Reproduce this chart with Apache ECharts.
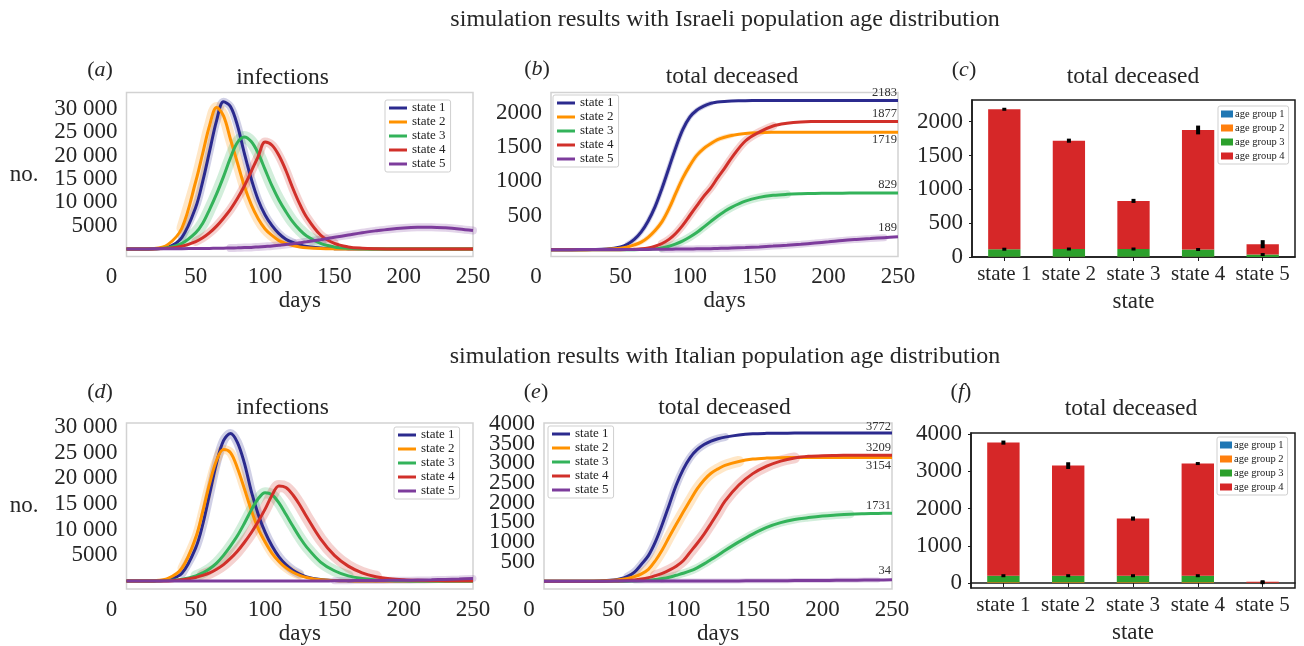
<!DOCTYPE html>
<html><head><meta charset="utf-8">
<script src="https://cdn.jsdelivr.net/npm/echarts@6/dist/echarts.min.js"></script>
<style>html,body{margin:0;padding:0;background:#fff}#c{width:1304px;height:646px}</style>
</head><body><div id="c"></div>
<script>
// ---------- DATA ----------
const days = [0,10,20,30,40,50,55,60,65,70,75,80,85,90,95,100,105,110,115,120,125,130,140,150,160,170,180,190,200,210,220,230,240,250];
const stateNames = ['state 1','state 2','state 3','state 4','state 5'];
const ageGroups = ['age group 1','age group 2','age group 3','age group 4'];

// (a) infections, Israeli
const isrInf1 = [0,0,50,400,2500,9000,14500,21000,27500,31500,30500,26500,20500,15000,10500,7300,5000,3300,2100,1400,900,550,220,80,30,10,0,0,0,0,0,0,0,0];
const isrInf2 = [0,0,100,1000,4500,14500,20500,26500,30300,28500,23500,18500,13500,9500,6500,4300,2900,1800,1200,750,450,280,100,30,10,0,0,0,0,0,0,0,0,0];
const isrInf3 = [0,0,50,300,1200,3500,5500,8500,11800,15500,19500,22800,24000,23000,20500,17000,13500,10500,8000,5800,4100,2800,1200,450,150,50,0,0,0,0,0,0,0,0];
const isrInf4 = [0,0,30,150,600,1600,2400,3500,4900,6600,8500,10800,13500,16600,19800,22900,22200,20000,16800,13000,9600,6800,3000,1200,450,170,60,20,0,0,0,0,0,0];
const isrInf5 = [0,20,40,60,80,100,110,130,150,180,210,250,300,350,450,550,650,800,950,1150,1350,1550,2000,2500,3000,3500,3900,4250,4500,4650,4680,4550,4300,3950];

// (b) total deceased, Israeli
const isrDec1 = [0,0,0,2,10,40,80,150,260,420,630,900,1200,1500,1760,1940,2040,2100,2140,2160,2170,2175,2180,2182,2183,2183,2183,2183,2183,2183,2183,2183,2183,2183];
const isrDec2 = [0,0,0,1,5,20,40,70,110,180,280,410,600,830,1050,1230,1380,1480,1550,1610,1645,1670,1700,1712,1717,1719,1719,1719,1719,1719,1719,1719,1719,1719];
const isrDec3 = [0,0,0,0,0,0,0,0,2,5,12,25,50,85,130,185,250,330,410,490,560,620,710,765,795,810,818,823,826,827,828,829,829,829];
const isrDec4 = [0,0,0,0,0,0,2,6,12,25,50,90,150,240,360,500,640,780,900,1050,1190,1340,1590,1720,1810,1850,1870,1875,1877,1877,1877,1877,1877,1877];
const isrDec5 = [0,0,1,1,2,2,3,3,4,4,5,6,7,8,9,10,12,13,15,18,20,23,30,40,52,65,80,97,115,135,150,163,176,189];

// (d) infections, Italian
const itaInf1 = [0,0,30,250,1500,6500,11000,17000,23000,27300,28700,27000,23000,17500,13000,9500,6800,4700,3200,2100,1350,800,300,100,30,10,0,0,0,0,0,0,0,0];
const itaInf2 = [0,0,60,500,2500,8500,13500,19000,23500,25600,25000,22000,18000,13800,10200,7600,5400,3800,2600,1700,1100,700,250,100,40,10,0,0,0,0,0,0,0,0];
const itaInf3 = [0,0,0,80,350,1000,1600,2400,3500,5000,6800,8800,11200,13800,16000,17200,16800,15200,13000,10700,8500,6600,3700,2000,1000,500,220,100,40,10,0,0,0,0];
const itaInf4 = [0,0,0,30,250,700,1100,1600,2300,3200,4400,5800,7500,9400,11600,14000,16700,18500,18200,16800,14800,12500,8200,5000,2900,1600,850,450,250,150,100,70,60,50];
const itaInf5 = [0,0,0,0,0,0,0,0,0,0,0,0,0,0,0,0,0,0,0,0,0,0,0,50,70,90,110,130,150,200,250,320,400,500];

// (e) total deceased, Italian
const itaDec1 = [0,0,0,0,5,30,60,120,230,430,650,1000,1450,1950,2450,2850,3150,3350,3480,3570,3630,3670,3725,3755,3766,3770,3772,3772,3772,3772,3772,3772,3772,3772];
const itaDec2 = [0,0,0,0,3,20,40,70,115,185,300,520,800,1130,1450,1760,2060,2350,2580,2750,2860,2950,3050,3110,3135,3145,3150,3152,3153,3154,3154,3154,3154,3154];
const itaDec3 = [0,0,0,0,0,0,0,0,3,8,20,40,65,100,150,200,260,340,440,550,660,780,1000,1200,1370,1490,1570,1620,1660,1685,1705,1717,1726,1731];
const itaDec4 = [0,0,0,0,0,2,8,15,30,55,90,140,200,280,380,520,740,960,1200,1470,1750,2040,2450,2740,2930,3060,3140,3180,3198,3204,3207,3208,3209,3209];
const itaDec5 = [0,0,0,0,0,1,1,1,2,2,2,2,3,3,3,3,4,4,4,5,5,6,7,8,10,12,14,16,18,21,24,27,30,34];

// (c) deceased by age group, Israeli
const isrAge1 = [0,0,0,0,0];
const isrAge2 = [3,3,3,3,1];
const isrAge3 = [112,115,115,108,35];
const isrAge4 = [2068,1601,711,1766,153];
const isrErrTop = [20,30,30,65,60];
const isrErrMid = [8,8,8,8,8];

// (f) deceased by age group, Italian
const itaAge1 = [0,0,0,0,0];
const itaAge2 = [20,20,20,20,6];
const itaAge3 = [175,175,175,175,2];
const itaAge4 = [3577,2959,1536,3014,26];
const itaErrTop = [55,90,55,40,10];
const itaErrMid = [10,10,10,10,5];

const isrTicks = [5000,10000,15000,20000,25000,30000];
const isrDecTicks = [500,1000,1500,2000];
const isrBarTicks = [0,500,1000,1500,2000];
const itaTicks = [5000,10000,15000,20000,25000,30000];
const itaDecTicksOdd = [500,1500,2500,3500];
const itaDecTicksEven = [1000,2000,3000,4000];
const itaBarTicks = [0,1000,2000,3000,4000];

// ---------- STYLE ----------
const FONT = "Liberation Serif";
const TXT = '#262626';
const lineColors = ['#2b2a8e','#ff9200','#33b35a','#d1302a','#7d3c9c'];
const barColors = ['#1f77b4','#ff7f0e','#2ca02c','#d62728'];

const grids = [
  {left:126.5, top:92.5, width:346.5, height:164},
  {left:551, top:92.5, width:347, height:164},
  {left:972, top:100, width:323, height:157},
  {left:126.5, top:423, width:346.5, height:166},
  {left:544, top:423, width:348, height:166},
  {left:971, top:433, width:324, height:155}
].map((g,i)=>Object.assign({show:true, containLabel:false, backgroundColor:'transparent',
   borderColor:(i===2||i===5)?'#1a1a1a':'#d2d2d2', borderWidth:1.5}, g));

function fmtNum(v){ return v>=10000 ? String(v).replace(/(\d)(?=\d{3}$)/,'$1 ') : String(v); }
const richTick = {t:{fontFamily:FONT, fontSize:23, color:TXT, lineHeight:12, height:12}};

function lineX(idx){
  return {type:'value', gridIndex:idx, min:0, max:250, interval:50, position:'bottom',
    axisLine:{show:false}, axisTick:{show:false}, splitLine:{show:false},
    name:'days', nameLocation:'middle', nameGap:33,
    nameTextStyle:{fontFamily:FONT, fontSize:23, color:TXT},
    axisLabel:{fontFamily:FONT, fontSize:23, color:TXT, margin:9,
      formatter:v=> v===0 ? '{z|0}' : String(v),
      rich:{z:{fontFamily:FONT, fontSize:23, color:TXT, padding:[0,30,0,0]}}}};
}
function lineY(idx, min, max, ticks, withName){
  const o = {type:'value', gridIndex:idx, min, max, position:'left', offset:0,
    axisLine:{show:false, onZero:false}, axisTick:{show:false}, splitLine:{show:false},
    axisLabel:{color:TXT, margin:9, formatter:v=>'{t|'+fmtNum(v)+'}', rich:richTick,
      customValues:ticks, showMinLabel:true, showMaxLabel:true, hideOverlap:false}};
  if(withName){ Object.assign(o,{name:'no.', nameLocation:'middle', nameRotate:0, nameGap:88,
    nameTextStyle:{fontFamily:FONT, fontSize:23, color:TXT}}); }
  return o;
}
function barX(idx){
  return {type:'category', gridIndex:idx, data:stateNames, position:'bottom',
    axisLine:{show:true, lineStyle:{color:'#1a1a1a', width:1.5}},
    axisTick:{show:true, alignWithLabel:true, length:4, lineStyle:{color:'#1a1a1a'}},
    axisLabel:{fontFamily:FONT, fontSize:21, color:TXT, margin:7, interval:0, hideOverlap:false},
    name:'state', nameLocation:'middle', nameGap:33,
    nameTextStyle:{fontFamily:FONT, fontSize:23, color:TXT}};
}
function barY(idx, min, max, ticks){
  return {type:'value', gridIndex:idx, min, max, position:'left',
    axisLine:{show:true, lineStyle:{color:'#1a1a1a', width:1.5}},
    axisTick:{show:true, length:3, lineStyle:{color:'#1a1a1a'}, customValues:ticks},
    splitLine:{show:false},
    axisLabel:{color:TXT, margin:9, customValues:ticks, formatter:v=>'{t|'+v+'}', rich:richTick,
      showMinLabel:true, showMaxLabel:true}};
}

const xAxis = [lineX(0), lineX(1), barX(2), lineX(3), lineX(4), barX(5)];
const yAxis = [
  lineY(0,-1600,33500,isrTicks,true),
  lineY(1,-100,2300,isrDecTicks,false),
  barY(2,0,2320,isrBarTicks),
  lineY(3,-1550,30750,itaTicks,true),
  lineY(4,-200,4030,itaDecTicksOdd,false),
  barY(5,-135,4030,itaBarTicks),
  lineY(4,-200,4030,itaDecTicksEven,false)   // second label row for panel (e), same scale
];

const series = [];
// band drawn only where the curve is changing (hidden on flat parts near 0 / plateau)
function bandPoints(arr, cumulative){
  const mx = Math.max(...arr);
  return days.map((d,j)=>{
    const v = arr[j];
    const flat = cumulative ? (v < 0.03*mx || v > 0.985*mx) : (v < 0.04*mx);
    return [d, flat ? null : v];
  });
}
function addLines(idx, arrays, bandW, endLbl, cumulative){
  arrays.forEach((arr,i)=>{
    series.push({type:'line', name:'band'+idx+'_'+i, xAxisIndex:idx, yAxisIndex:idx,
      data:bandPoints(arr,cumulative), connectNulls:false, smooth:0.35, symbol:'none', silent:true, z:1,
      lineStyle:{width:bandW[i], color:lineColors[i], opacity:0.22, cap:'round'}});
  });
  arrays.forEach((arr,i)=>{
    const s = {type:'line', name:stateNames[i], xAxisIndex:idx, yAxisIndex:idx,
      data:days.map((d,j)=>[d,arr[j]]), smooth:0.35, symbol:'none', z:3,
      lineStyle:{width:3, color:lineColors[i]}, itemStyle:{color:lineColors[i]}};
    if(endLbl){
      s.endLabel = {show:true, distance:0, align:'right', verticalAlign:'middle',
        offset:[-1, endLbl[i]], formatter:p=>String(p.value[1]),
        fontFamily:FONT, fontSize:12.5, color:'#333'};
    }
    series.push(s);
  });
}
addLines(0,[isrInf1,isrInf2,isrInf3,isrInf4,isrInf5],[8,11,12,9,8],null,false);
addLines(1,[isrDec1,isrDec2,isrDec3,isrDec4,isrDec5],[5,5,8,8,7],[-8,8,-8,-8,-9],true);
addLines(3,[itaInf1,itaInf2,itaInf3,itaInf4,itaInf5],[9,9,11,12,7],null,false);
addLines(4,[itaDec1,itaDec2,itaDec3,itaDec4,itaDec5],[8,11,8,11,5],[-6,8,-8,-8,-9],true);

function errRender(params, api){
  const x = api.value(0), lo = api.value(1), hi = api.value(2);
  const p1 = api.coord([x,hi]), p2 = api.coord([x,lo]);
  let y1 = p1[1], y2 = p2[1];
  if(y2-y1 < 3){ const m=(y1+y2)/2; y1=m-1.5; y2=m+1.5; }
  return {type:'rect', shape:{x:p1[0]-2, y:y1, width:4, height:y2-y1}, style:{fill:'#000'}};
}
function addBars(idx, groups, errTop, errMid){
  groups.forEach((arr,i)=>{
    series.push({type:'bar', name:ageGroups[i], xAxisIndex:idx, yAxisIndex:idx, stack:'s'+idx,
      data:arr, barWidth:'50%', itemStyle:{color:barColors[i]}, z:2});
  });
  const errData = [];
  stateNames.forEach((s,k)=>{
    const mid = groups[0][k]+groups[1][k]+groups[2][k];
    const top = mid + groups[3][k];
    errData.push([k, mid-errMid[k], mid+errMid[k]]);
    errData.push([k, top-errTop[k], top+errTop[k]]);
  });
  series.push({type:'custom', name:'err'+idx, xAxisIndex:idx, yAxisIndex:idx, data:errData,
    renderItem:errRender, encode:{x:0, y:[1,2]}, z:5, silent:true});
}
addBars(2,[isrAge1,isrAge2,isrAge3,isrAge4],isrErrTop,isrErrMid);
addBars(5,[itaAge1,itaAge2,itaAge3,itaAge4],itaErrTop,itaErrMid);

const LINE_ICON = 'path://M0,0L18,0L18,3L0,3Z';
function lineLegend(left, top){
  return {orient:'vertical', left, top, data:stateNames, selectedMode:false, icon:LINE_ICON,
    itemWidth:18, itemHeight:3.5, itemGap:0, padding:[1,5,1,4],
    borderColor:'#cfcfcf', borderWidth:1, borderRadius:2, backgroundColor:'#fff',
    textStyle:{fontFamily:FONT, fontSize:13, color:'#222', lineHeight:14}};
}
function barLegend(left, top){
  return {orient:'vertical', left, top, data:ageGroups, selectedMode:false, icon:'rect',
    itemWidth:12, itemHeight:7, itemGap:0, padding:[1,4,1,3],
    borderColor:'#cfcfcf', borderWidth:1, borderRadius:2, backgroundColor:'#fff',
    textStyle:{fontFamily:FONT, fontSize:10.5, color:'#222', lineHeight:14, padding:[0,0,0,-3]}};
}
const legend = [lineLegend(385,100), lineLegend(553,95), barLegend(1218,106),
                lineLegend(394,427), lineLegend(548,426), barLegend(1217,437)];

function txt(x,y,text,size){
  return {type:'text', x, y, silent:true, style:{text, fontFamily:FONT, fontSize:size||23.5, fill:TXT, align:'center', verticalAlign:'middle'}};
}
function letter(x,y,l){
  return {type:'text', x, y, silent:true, style:{text:'{n|(}{i|'+l+'}{n|)}', align:'center', verticalAlign:'middle',
    rich:{n:{fontFamily:FONT, fontSize:22, fill:TXT}, i:{fontFamily:FONT, fontSize:22, fill:TXT, fontStyle:'italic'}}}};
}
const graphic = [
  txt(725,20,'simulation results with Israeli population age distribution',24),
  txt(725,357,'simulation results with Italian population age distribution',24),
  txt(282.5,78,'infections'), txt(732,77,'total deceased'), txt(1133,77,'total deceased'),
  txt(282.5,408,'infections'), txt(724.5,408,'total deceased'), txt(1131,409,'total deceased'),
  letter(100,70,'a'), letter(537,69,'b'), letter(964,70,'c'),
  letter(100,392,'d'), letter(536,392,'e'), letter(961,392,'f')
];

const chart = echarts.init(document.getElementById('c'), null, {renderer:'canvas'});
chart.setOption({animation:false, backgroundColor:'#fff', grid:grids, xAxis, yAxis, series, legend, graphic});
</script></body></html>
